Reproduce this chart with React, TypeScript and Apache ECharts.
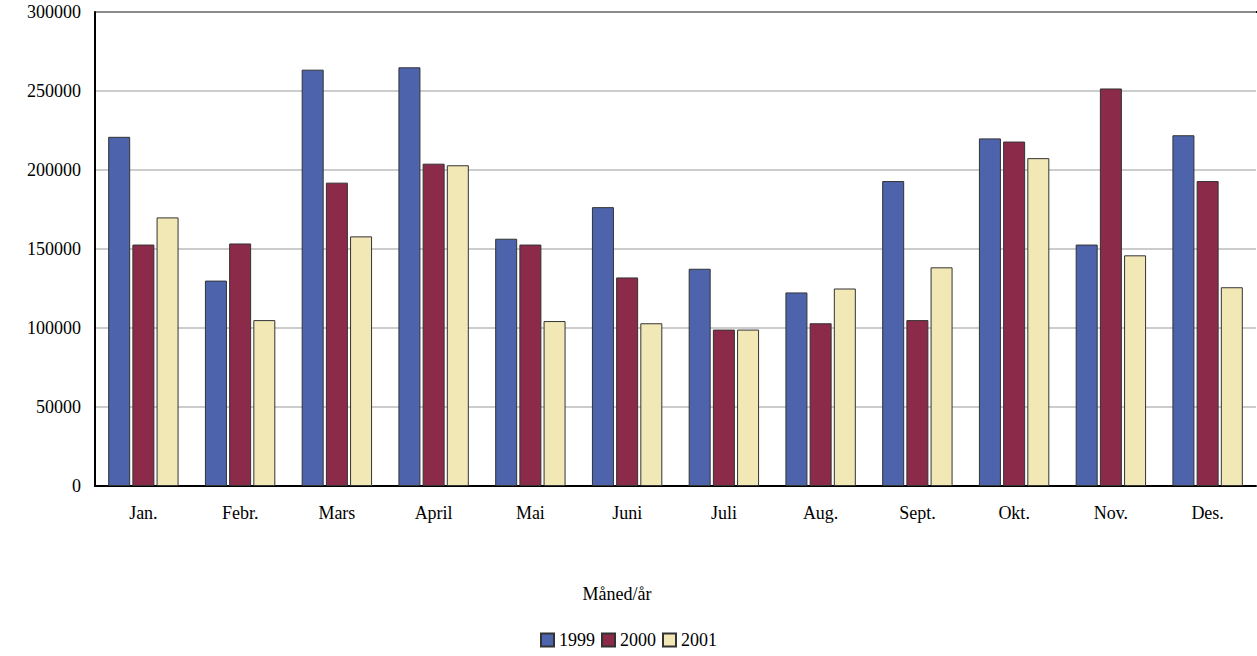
import { useEffect, useRef } from "react"
import * as echarts from "echarts"

const months = ["Jan.", "Febr.", "Mars", "April", "Mai", "Juni", "Juli", "Aug.", "Sept.", "Okt.", "Nov.", "Des."]
const s1999 = [221000, 130000, 263500, 265000, 156500, 176500, 137500, 122500, 193000, 220000, 152800, 222000]
const s2000 = [152800, 153500, 192000, 204000, 152800, 132000, 99000, 103000, 105000, 218000, 251600, 193000]
const s2001 = [170000, 105000, 158000, 203000, 104400, 103000, 99000, 125000, 138400, 207500, 146000, 125800]

export default function App() {
  const ref = useRef<HTMLDivElement>(null)

  useEffect(() => {
    if (!ref.current) return
    const chart = echarts.init(ref.current, null, { renderer: "svg" })
    const fam = "Liberation Serif"
    const font = { fontFamily: fam, fontSize: 18, color: "#000" }
    const bar = (name: string, data: number[], color: string) => ({
      name,
      type: "bar",
      data,
      barWidth: 22,
      itemStyle: { color, borderColor: "#333", borderWidth: 1 },
    })
    chart.setOption({
      animation: false,
      textStyle: { fontFamily: fam },
      grid: { left: 95, right: 1, top: 12, bottom: 170 },
      legend: {
        bottom: 2,
        left: 535,
        icon: "rect",
        itemWidth: 13,
        itemHeight: 13,
        itemGap: 6,
        textStyle: font,
        data: ["1999", "2000", "2001"],
      },
      xAxis: {
        type: "category",
        data: months,
        axisLine: { lineStyle: { color: "#000", width: 2 } },
        axisTick: { show: false },
        axisLabel: { ...font, margin: 18 },
      },
      yAxis: {
        type: "value",
        min: 0,
        max: 300000,
        interval: 50000,
        axisLine: { show: true, lineStyle: { color: "#000", width: 2 } },
        axisLabel: { ...font, margin: 14, formatter: (v: number) => String(v) },
        splitLine: { lineStyle: { color: "#bbb", width: 1.5 } },
      },
      series: [
        bar("1999", s1999, "#4d64ad"),
        bar("2000", s2000, "#8c2a4a"),
        bar("2001", s2001, "#f2e8b6"),
      ],
      graphic: [
        { type: "line", shape: { x1: 95, y1: 12, x2: 1257, y2: 12 }, style: { stroke: "#000", lineWidth: 2 } },
        {
          type: "text",
          x: 617,
          y: 594,
          style: { text: "Måned/år", font: "18px 'Liberation Serif'", fill: "#000", align: "center", verticalAlign: "middle" },
        },
      ],
    })
    return () => chart.dispose()
  }, [])

  return <div ref={ref} style={{ position: "absolute", left: 0, top: 0, width: 1257, height: 656 }} />
}
